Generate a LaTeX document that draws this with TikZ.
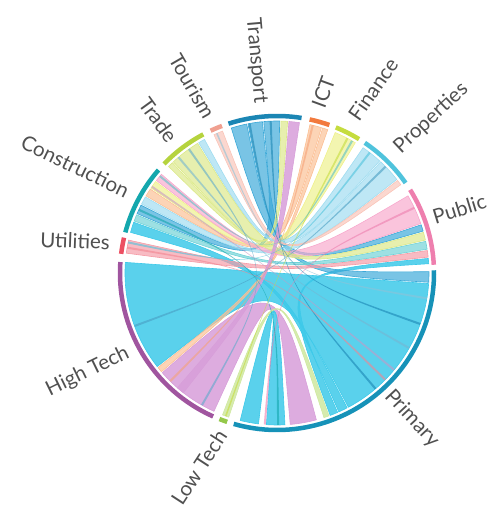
\documentclass[tikz,border=0pt]{standalone}
\usepackage{fontspec}
\setmainfont{Lato}
% ring colours
\definecolor{kPub}{HTML}{EE7FAE}
\definecolor{kProp}{HTML}{4FC3DC}
\definecolor{kFin}{HTML}{C5DC3E}
\definecolor{kICT}{HTML}{F27A3E}
\definecolor{kTrans}{HTML}{1B86B4}
\definecolor{kTour}{HTML}{F0A090}
\definecolor{kTrade}{HTML}{B5D33E}
\definecolor{kCons}{HTML}{14A7AD}
\definecolor{kUtil}{HTML}{EC4F62}
\definecolor{kHT}{HTML}{A0559F}
\definecolor{kLT}{HTML}{94C84A}
\definecolor{kPrim}{HTML}{1692B8}
% ribbon colours
\definecolor{rPub}{HTML}{F7A8CC}
\definecolor{rProp}{HTML}{9FDCF0}
\definecolor{rFin}{HTML}{EEF08A}
\definecolor{rICT}{HTML}{FBBF94}
\definecolor{rTrans}{HTML}{3AA8D8}
\definecolor{rTour}{HTML}{F9C4B8}
\definecolor{rTrade}{HTML}{DBE887}
\definecolor{rCons}{HTML}{6FD2D6}
\definecolor{rUtil}{HTML}{F59BA6}
\definecolor{rHT}{HTML}{D79ED9}
\definecolor{rLT}{HTML}{CFE8A0}
\definecolor{rPrim}{HTML}{3DC9E9}
\definecolor{labgray}{HTML}{505050}
\newcommand\RR{152pt}
\newcommand\chordrib[5]{\fill[rib,#5] (#1:\RR) arc[start angle=#1,end angle=#2,radius=\RR] .. controls (0,0) .. (#3:\RR) arc[start angle=#3,end angle=#4,radius=\RR] .. controls (0,0) .. (#1:\RR) -- cycle;}
\newcommand\thinrib[5]{\fill[thin rib,fill=#5] (#1:\RR) arc[start angle=#1,end angle=#2,radius=\RR] .. controls (0,0) .. (#3:\RR) arc[start angle=#3,end angle=#4,radius=\RR] .. controls (0,0) .. (#1:\RR) -- cycle;}
\newcommand\seg[3]{\draw[ring,#3] (#1:157pt) arc[start angle=#1,end angle=#2,radius=157pt];}
\begin{document}
\begin{tikzpicture}[
  rib/.style={draw=white,line width=0.6pt,fill opacity=0.85},
  pale/.style={fill opacity=0.68},
  thin rib/.style={draw=none,fill opacity=0.6},
  ring/.style={line width=4.5pt},
  lab/.style={font=\fontsize{20.5}{24}\selectfont,text=labgray,inner sep=0pt}]
\useasboundingbox (-277pt,-237pt) rectangle (209pt,273pt);
% big ribbons
\chordrib{-62}{-4}{176}{218}{rPrim}
\chordrib{221}{245.5}{-85}{-75}{rHT}
\chordrib{-104}{-97}{-94}{-87}{rPrim}
\chordrib{249}{251.5}{-72}{-70}{rLT}
\chordrib{218.5}{220.5}{70.5}{72.5}{rICT,pale}
\chordrib{-66}{-62.5}{160.5}{164.5}{rPrim}
\chordrib{-69.5}{-66.5}{3.5}{5.5}{rPrim}
% upper ribbons
\chordrib{95.5}{101}{-3.5}{0.5}{rTrans,pale}
\chordrib{101.5}{107.5}{16}{18.5}{rTrans,pale}
\chordrib{89}{95}{153.5}{157}{rTrans,pale}
\chordrib{86}{88.5}{133.5}{135.5}{rTrade,pale}
\chordrib{73}{77.5}{146.5}{149.5}{rICT,pale}
\chordrib{59}{67.5}{143}{146}{rFin,pale}
\chordrib{38}{47}{150}{153}{rProp,pale}
\chordrib{47.5}{55.5}{118.5}{121}{rProp,pale}
\chordrib{111}{114.5}{35.5}{37.5}{rTour,pale}
\chordrib{19}{30.5}{139.5}{142.5}{rPub,pale}
\chordrib{167.5}{172.5}{6}{8.5}{rUtil,pale}
\chordrib{157.5}{160}{9}{12}{rCons,pale}
\chordrib{121.5}{133}{12.5}{15.5}{rTrade,pale}
\chordrib{229}{232}{81.5}{85.5}{rHT}
% thin chords
\thinrib{92}{92.8}{-50}{-49.2}{kTrans}
\thinrib{145}{145.8}{-40}{-39.2}{kHT!60}
\thinrib{125}{125.8}{240}{240.8}{kTrans!70}
\thinrib{44}{44.8}{200}{200.8}{kTrans!80}
\thinrib{25}{25.8}{-95}{-94.2}{kPub}
\thinrib{100}{100.8}{-20}{-19.2}{kTrans}
\thinrib{170}{170.8}{-45}{-44.2}{kUtil!70}
\thinrib{155}{155.8}{-90}{-89.2}{kCons}
\thinrib{62}{62.8}{250}{250.6}{kFin}
\thinrib{76}{76.8}{225}{225.8}{kICT!70}
\thinrib{130}{130.8}{-30}{-29.2}{kTrans!60}
\thinrib{52}{52.8}{168}{168.8}{kProp}
\thinrib{140}{140.8}{60}{60.8}{kCons!70}
\thinrib{113}{113.6}{-10}{-9.2}{kTrans!50}
% ring segments
\seg{3}{32}{kPub}
\seg{35}{56}{kProp}
\seg{58.5}{68}{kFin}
\seg{70.5}{78}{kICT}
\seg{81}{108}{kTrans}
\seg{110.5}{115}{kTour}
\seg{118}{136}{kTrade}
\seg{139}{165}{kCons}
\seg{167}{173}{kUtil}
\seg{176}{246}{kHT}
\seg{248.5}{251.5}{kLT}
\seg{254}{361}{kPrim}
% labels
\node[lab,anchor=east,rotate=-85] (lTransport) at (-17pt,170pt) {Transport};
\node[lab,anchor=east,rotate=-60] (lTourism) at (-67pt,156pt) {Tourism};
\node[lab,anchor=east,rotate=-54] (lTrade) at (-104pt,133pt) {Trade};
\node[lab,anchor=east,rotate=-26] (lConstruction) at (-149pt,81pt) {Construction};
\node[lab,anchor=east,rotate=-2] (lUtilities) at (-167pt,31pt) {Utilities};
\node[lab,anchor=east,rotate=26] (lHighTech) at (-149pt,-79pt) {High Tech};
\node[lab,anchor=east,rotate=57] (lLowTech) at (-55pt,-159pt) {Low Tech};
\node[lab,anchor=west,rotate=-47] (lPrimary) at (111pt,-120pt) {Primary};
\node[lab,anchor=west,rotate=17] (lPublic) at (156pt,56pt) {Public};
\node[lab,anchor=west,rotate=43] (lProperties) at (120pt,123pt) {Properties};
\node[lab,anchor=west,rotate=55] (lFinance) at (76pt,155pt) {Finance};
\node[lab,anchor=west,rotate=70] (lICT) at (41pt,166pt) {ICT};
\end{tikzpicture}
\end{document}
